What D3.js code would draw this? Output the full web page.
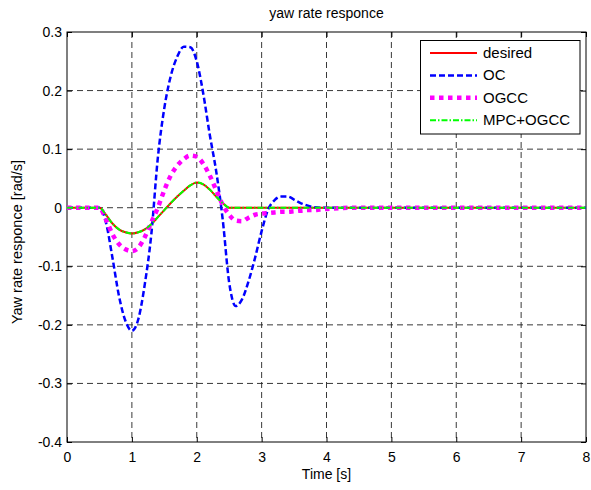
<!DOCTYPE html>
<html>
<head>
<meta charset="utf-8">
<script src="https://cdn.jsdelivr.net/npm/d3@7"></script>
<style>
  body { margin: 0; background: #fff; }
  text { font-family: "Liberation Sans", Arial, sans-serif; fill: #000; }
</style>
</head>
<body>
<script>
// yaw rate responce chart
const time = [0, 0.4, 0.5, 0.6, 0.7, 0.8, 0.9, 1.0, 1.1, 1.2, 1.3, 1.4, 1.5, 1.6, 1.7, 1.8, 1.9, 2.0,
  2.1, 2.2, 2.3, 2.4, 2.5, 2.6, 2.7, 2.8, 2.9, 3.0, 3.1, 3.2, 3.3, 3.4, 3.5, 3.6, 3.7, 3.8, 3.9, 4.0,
  4.5, 5, 6, 7, 8];

const desired = [0, 0, 0, -0.012, -0.027, -0.037, -0.042, -0.044, -0.042, -0.037, -0.028, -0.016, -0.004,
  0.008, 0.019, 0.029, 0.038, 0.043, 0.040, 0.031, 0.019, 0.008, 0,
  0, 0, 0, 0, 0, 0, 0, 0, 0, 0, 0, 0, 0, 0, 0,
  0, 0, 0, 0, 0];

const oc = [0, 0, 0, -0.025, -0.085, -0.150, -0.193, -0.210, -0.190, -0.130, -0.045, 0.085, 0.170,
  0.225, 0.258, 0.275, 0.274, 0.250, 0.195, 0.125, 0.062, -0.020, -0.128,
  -0.168, -0.156, -0.125, -0.085, -0.040, -0.003, 0.013, 0.019, 0.019, 0.014, 0.008, 0.004, 0.001, 0, 0,
  0, 0, 0, 0, 0];

const ogcc = [0, 0, 0, -0.020, -0.045, -0.062, -0.071, -0.074, -0.068, -0.050, -0.025, 0.000, 0.030,
  0.055, 0.072, 0.083, 0.089, 0.087, 0.075, 0.055, 0.030, 0.005, -0.012,
  -0.022, -0.023, -0.017, -0.012, -0.010, -0.009, -0.008, -0.007, -0.007, -0.006, -0.005, -0.004, -0.004, -0.003, -0.002,
  0, 0, 0, 0, 0];

const mpcOgcc = [0, 0, 0, -0.012, -0.027, -0.037, -0.042, -0.044, -0.042, -0.037, -0.028, -0.016, -0.004,
  0.008, 0.019, 0.029, 0.038, 0.043, 0.040, 0.031, 0.019, 0.008, 0,
  0, 0, 0, 0, 0, 0, 0, 0, 0, 0, 0, 0, 0, 0, 0,
  0, 0, 0, 0, 0];

const seriesNames = ["desired", "OC", "OGCC", "MPC+OGCC"];
const xTicks = [0, 1, 2, 3, 4, 5, 6, 7, 8];
const yTicks = [-0.4, -0.3, -0.2, -0.1, 0, 0.1, 0.2, 0.3];

const w = 591;
const h = 490;
const pLeft = 67, pRight = 586, pTop = 32, pBottom = 442;

const styles = [
  { color: "#ff0000", width: 2, dash: null },
  { color: "#0000ff", width: 2.5, dash: "6,3" },
  { color: "#ff00ff", width: 4.5, dash: "4.5,4.5" },
  { color: "#00ff00", width: 2, dash: "6,2,1.5,2" }
];

const svg = d3.select("body")
  .append("svg")
  .attr("width", w)
  .attr("height", h);

const x = d3.scaleLinear().domain([0, 8]).range([pLeft, pRight]);
const y = d3.scaleLinear().domain([-0.4, 0.3]).range([pBottom, pTop]);

// grid
svg.append("g")
  .selectAll("line")
  .data(xTicks.slice(1, -1))
  .enter()
  .append("line")
  .attr("x1", d => x(d)).attr("x2", d => x(d))
  .attr("y1", pTop).attr("y2", pBottom)
  .attr("stroke", "#222")
  .attr("stroke-width", 0.9)
  .attr("stroke-dasharray", "6,4");

svg.append("g")
  .selectAll("line")
  .data(yTicks.slice(1, -1))
  .enter()
  .append("line")
  .attr("x1", pLeft).attr("x2", pRight)
  .attr("y1", d => y(d)).attr("y2", d => y(d))
  .attr("stroke", "#222")
  .attr("stroke-width", 0.9)
  .attr("stroke-dasharray", "6,4");

// axes, ticks pointing inside
const fmt = d => String(d);

svg.append("g")
  .attr("transform", "translate(0," + pBottom + ")")
  .call(d3.axisBottom(x).tickValues(xTicks).tickFormat(fmt).tickSizeInner(-5).tickSizeOuter(0).tickPadding(10))
  .call(g => g.select(".domain").remove())
  .call(g => g.selectAll("text").style("font-size", "14px"));

svg.append("g")
  .attr("transform", "translate(" + pLeft + ",0)")
  .call(d3.axisLeft(y).tickValues(yTicks).tickFormat(fmt).tickSizeInner(-5).tickSizeOuter(0).tickPadding(5))
  .call(g => g.select(".domain").remove())
  .call(g => g.selectAll("text").style("font-size", "14px"));

svg.append("g")
  .attr("transform", "translate(0," + pTop + ")")
  .call(d3.axisTop(x).tickValues(xTicks).tickFormat("").tickSizeInner(-5).tickSizeOuter(0))
  .call(g => g.select(".domain").remove());

svg.append("g")
  .attr("transform", "translate(" + pRight + ",0)")
  .call(d3.axisRight(y).tickValues(yTicks).tickFormat("").tickSizeInner(-5).tickSizeOuter(0))
  .call(g => g.select(".domain").remove());

svg.append("rect")
  .attr("x", pLeft).attr("y", pTop)
  .attr("width", pRight - pLeft).attr("height", pBottom - pTop)
  .attr("fill", "none")
  .attr("stroke", "#000")
  .attr("stroke-width", 1);

// lines
const allSeries = [desired, oc, ogcc, mpcOgcc];
const line = d3.line()
  .x(d => x(d[0]))
  .y(d => y(d[1]))
  .curve(d3.curveMonotoneX);

allSeries.forEach((vals, i) => {
  const pts = time.map((t, k) => [t, vals[k]]);
  svg.append("path")
    .datum(pts)
    .attr("d", line)
    .attr("fill", "none")
    .attr("stroke", styles[i].color)
    .attr("stroke-width", styles[i].width)
    .attr("stroke-dasharray", styles[i].dash);
});

// titles
svg.append("text")
  .attr("x", (pLeft + pRight) / 2)
  .attr("y", 18)
  .attr("text-anchor", "middle")
  .style("font-size", "14px")
  .text("yaw rate responce");

svg.append("text")
  .attr("x", (pLeft + pRight) / 2)
  .attr("y", 479)
  .attr("text-anchor", "middle")
  .style("font-size", "14px")
  .text("Time [s]");

svg.append("text")
  .attr("transform", "translate(22,242) rotate(-90)")
  .attr("text-anchor", "middle")
  .style("font-size", "14.5px")
  .text("Yaw rate responce [rad/s]");

// legend
const legend = svg.append("g").attr("id", "legend");
legend.append("rect")
  .attr("x", 420.5).attr("y", 40.5)
  .attr("width", 159.5).attr("height", 93.5)
  .attr("fill", "#fff")
  .attr("stroke", "#000")
  .attr("stroke-width", 1);

const item = legend.selectAll(".legend-item")
  .data(seriesNames)
  .enter()
  .append("g")
  .attr("class", "legend-item")
  .attr("transform", (d, i) => "translate(0," + (53 + i * 22.4) + ")");

item.append("line")
  .attr("x1", 430).attr("x2", 477)
  .attr("y1", 0).attr("y2", 0)
  .attr("stroke", (d, i) => styles[i].color)
  .attr("stroke-width", (d, i) => styles[i].width)
  .attr("stroke-dasharray", (d, i) => styles[i].dash);

item.append("text")
  .attr("x", 483)
  .attr("y", 5)
  .style("font-size", "15px")
  .text(d => d);
</script>
</body>
</html>
